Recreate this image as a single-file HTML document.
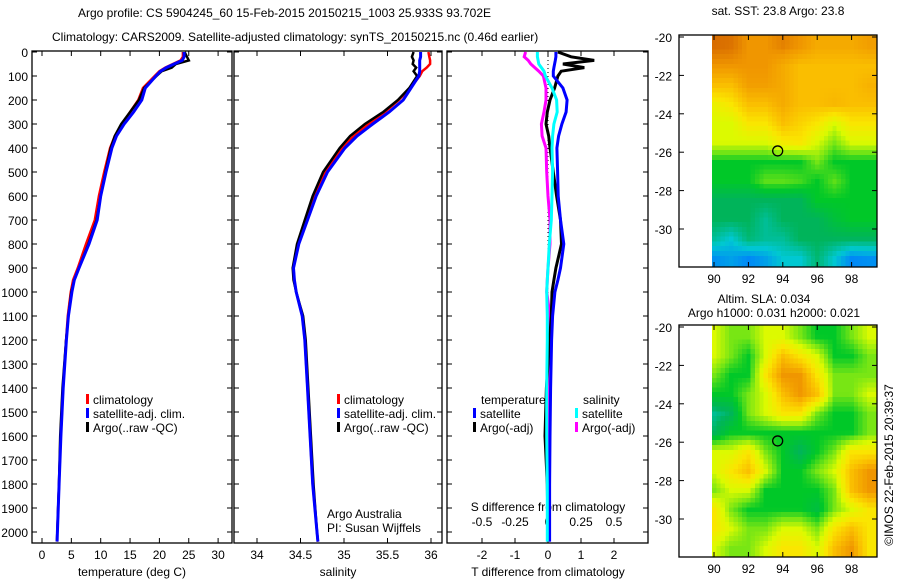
<!DOCTYPE html>
<html><head><meta charset="utf-8"><style>
body{margin:0;background:#fff}
svg{display:block;font-family:"Liberation Sans",Arial,sans-serif;font-size:12px}
</style></head><body>
<svg id="c" width="900" height="580" viewBox="0 0 900 580">
<text x="78" y="17">Argo profile: CS 5904245_60 15-Feb-2015 20150215_1003 25.933S 93.702E</text>
<text x="52" y="41">Climatology: CARS2009. Satellite-adjusted climatology: synTS_20150215.nc (0.46d earlier)</text>
<g id="g"></g>
<text x="327" y="518">Argo Australia</text>
<text x="327" y="532">PI: Susan Wijffels</text>
<text x="778" y="15" text-anchor="middle">sat. SST: 23.8 Argo: 23.8</text>
<text x="764" y="303" text-anchor="middle">Altim. SLA: 0.034</text>
<text x="774" y="317" text-anchor="middle">Argo h1000: 0.031 h2000: 0.021</text>
<text transform="translate(893,465) rotate(-90)" text-anchor="middle">©IMOS 22-Feb-2015 20:39:37</text>
</svg>
<script>
// ---- data ----
const depths = [0,20,35,50,65,80,100,150,200,250,300,350,400,500,600,700,800,900,950,1000,1100,1200,1400,1600,1800,2000,2040];
const tempClim = [24.0,24.0,23.6,22.3,21.0,20.0,19.2,17.2,16.4,15.0,13.6,12.4,11.6,10.6,9.7,9.0,7.5,6.1,5.3,4.9,4.4,4.1,3.6,3.2,2.9,2.6,2.55];
const tempSat  = [24.2,24.2,23.9,22.5,21.2,20.2,19.4,17.6,17.0,15.6,14.0,12.7,11.9,10.9,10.0,9.4,8.0,6.3,5.5,5.1,4.5,4.15,3.62,3.22,2.92,2.62,2.57];
const tempArgo = [24.3,24.7,25.0,22.8,22.1,20.4,19.5,17.4,16.5,15.0,13.5,12.4,11.7,10.8,10.0,9.3,7.9,6.3,5.5,5.0,4.5,4.1,3.5,3.1,2.9,2.6,2.55];
const salClim = [35.97,35.98,35.99,35.99,35.95,35.90,35.87,35.76,35.63,35.47,35.28,35.11,34.98,34.79,34.66,34.56,34.47,34.42,34.43,34.45,34.52,34.55,34.58,34.61,34.64,34.69,34.70];
const salSat  = [35.88,35.88,35.87,35.87,35.87,35.87,35.86,35.77,35.68,35.52,35.33,35.15,35.01,34.81,34.68,34.58,34.48,34.42,34.43,34.45,34.52,34.55,34.58,34.61,34.64,34.69,34.70];
const salArgo = [35.80,35.78,35.80,35.79,35.83,35.80,35.84,35.75,35.62,35.45,35.24,35.07,34.95,34.76,34.64,34.55,34.46,34.41,34.42,34.45,34.53,34.56,34.59,34.62,34.65,34.69,34.70];
const dTSat  = [0.24,0.24,0.22,0.2,0.18,0.16,0.16,0.45,0.58,0.55,0.42,0.32,0.27,0.29,0.31,0.38,0.48,0.38,0.3,0.21,0.14,0.11,0.08,0.06,0.05,0.05,0.05];
const dTArgo = [0.3,0.7,1.4,0.45,1.1,0.4,0.3,0.2,0.06,-0.02,-0.06,0.02,0.06,0.16,0.26,0.38,0.41,0.24,0.18,0.12,0.1,0.05,-0.05,-0.09,-0.02,0.0,0.0];
const dSSat  = [-0.08,-0.08,-0.075,-0.07,-0.05,-0.03,-0.02,0.03,0.065,0.07,0.045,0.035,0.03,0.035,0.03,0.025,0.01,0.0,-0.005,-0.01,-0.005,-0.005,-0.01,-0.01,-0.005,-0.005,-0.005];
const dSArgo = [-0.17,-0.18,-0.15,-0.13,-0.1,-0.07,-0.035,-0.015,-0.015,-0.03,-0.05,-0.045,-0.015,-0.01,0.0,0.015,0.015,0.0,-0.005,-0.01,0.015,0.01,0.01,0.01,0.01,0.01,0.01];
const depthTicks = [0,100,200,300,400,500,600,700,800,900,1000,1100,1200,1300,1400,1500,1600,1700,1800,1900,2000];
const tempTicks = [0,5,10,15,20,25,30];
const salTicks = [34,34.5,35,35.5,36];
const tdTicks = [-2,-1,0,1,2];
const sdTicks = [-0.5,-0.25,0,0.25,0.5];
const sdTickLabels = ["-0.5","-0.25","0","0.25","0.5"];
const latTicks = [-20,-22,-24,-26,-28,-30];
const lonTicks = [90,92,94,96,98];
const mapLons = [90,91,92,93,94,95,96,97,98,99];
const mapLats = [-20,-21,-22,-23,-24,-25,-26,-27,-28,-29,-30,-31];
const sstGrid = [
[9.6,9.5,9,9,9.3,9,8.5,8.5,8.5,8.8],
[9,9,9,9,8.5,8,8,8,8,8],
[8,8,8.8,8.8,8.5,8,8,8,8,8.3],
[6.5,7,8,8,8.5,8,8,8.2,8,8],
[6,6,7,7,8,7.5,7,6,7,7],
[6,6,6,6,6.8,7,6,5,6,6],
[4,4,4,4,4,4,5,4,4,4],
[4,4,4,4.8,4.8,4.6,4,4.8,4,4],
[3,3,3,3,3,3,4,4,4,4],
[3,3,3,2.5,3,3,3,3.6,4,4],
[2.5,2,2.8,2.5,2.5,3,3,3,3,3],
[1.3,1.5,1.2,1.5,2,2,2.8,2,1.2,1.3]];
const slaGrid = [
[6,5,5,6,6,5,4,4,5,6],
[6,5,4,6,8,7,6,4,4,5],
[5,4,4,7,9,9,7,5,5,5],
[4,4,5,6,8,9,8,5,5,6],
[2.5,3,5,6,7,7,5,4,4,5],
[3,4,4,4,4,4,4,4,4,5],
[6,6,7,5,4,3,4,5,7,7],
[6,7,8,6,4,4,5,6,8,9],
[5,6,6,4,4,4,4,5,8,9],
[7,5,4,4,4,4,3.5,5,6,7],
[7,6,5,5,6,6,5,7,8,7],
[6,5,5,6,7,7,6,8,9,7]];
const argoLon = 93.702, argoLat = -25.933;

// ---- helpers ----
const NS="http://www.w3.org/2000/svg";
const G=document.getElementById('g');
function mk(t,a,p){const e=document.createElementNS(NS,t);for(const k in a)e.setAttribute(k,a[k]);(p||G).appendChild(e);return e;}
const yD = d => 52 + d*0.24;
const PB = 543;
const xT = t => 42 + t*5.87;
const xS = s => 257 + (s-34)*87;
const xTd = t => 548 + t*33;
const xSd = s => 548 + s*132;

function panel(x0,x1,name){
  const r=mk('rect',{x:x0,y:51,width:x1-x0,height:PB-51,fill:'none',stroke:'#000','stroke-width':1.3});
  
  
  depthTicks.forEach(d=>{
    mk('line',{x1:x0,x2:x0+5,y1:yD(d),y2:yD(d),stroke:'#000'});
    mk('line',{x1:x1,x2:x1-5,y1:yD(d),y2:yD(d),stroke:'#000'});
  });
}
function line(xs,sc,color,w,name){
  const pts=depths.map((d,i)=>sc(xs[i]).toFixed(1)+','+yD(d).toFixed(1)).join(' ');
  const p=mk('polyline',{points:pts,fill:'none',stroke:color,'stroke-width':w,'stroke-linejoin':'miter'});
  
  
}
function txt(x,y,s,anchor,name){
  const t=mk('text',{x:x,y:y,'text-anchor':anchor||'start'});t.textContent=s;
  
  
  return t;
}
function xticks(vals,labels,sc,name){
  vals.forEach((v,i)=>{
    mk('line',{x1:sc(v),x2:sc(v),y1:51,y2:56,stroke:'#000'});
    mk('line',{x1:sc(v),x2:sc(v),y1:PB,y2:PB-5,stroke:'#000'});
    txt(sc(v),559,labels[i],'middle',name);
  });
}
// panel 1
panel(32,232,'temperature-panel');
depthTicks.forEach(d=>txt(28,yD(d)+5,String(d),'end','depth-tick-label'));
xticks(tempTicks,tempTicks.map(String),xT,'temperature-tick-label');
txt(132,576,'temperature (deg C)','middle','temperature-axis-title');
line(tempClim,xT,'#f00',2.5,'temp-climatology-line');
line(tempArgo,xT,'#000',2.5,'temp-argo-line');
line(tempSat,xT,'#00f',3,'temp-satellite-line');
// panel 2
panel(234,442,'salinity-panel');
xticks(salTicks,["34","34.5","35","35.5","36"],xS,'salinity-tick-label');
txt(338,576,'salinity','middle','salinity-axis-title');
line(salClim,xS,'#f00',2.5,'sal-climatology-line');
line(salArgo,xS,'#000',2.5,'sal-argo-line');
line(salSat,xS,'#00f',3,'sal-satellite-line');
// panel 3
panel(447,648,'difference-panel');
xticks(tdTicks,tdTicks.map(String),xTd,'t-diff-tick-label');
txt(548,576,'T difference from climatology','middle','t-diff-axis-title');
sdTicks.forEach((v,i)=>txt(xSd(v),526,sdTickLabels[i],'middle','s-diff-tick-label'));
txt(548,511,'S difference from climatology','middle','s-diff-axis-title');
mk('line',{x1:548,x2:548,y1:52,y2:PB,stroke:'#000','stroke-dasharray':'1,3'});
line(dSArgo,xSd,'#f0f',3,'sal-argo-diff-line');
line(dTArgo,xTd,'#000',3,'temp-argo-diff-line');
line(dTSat,xTd,'#00f',3,'temp-satellite-diff-line');
line(dSSat,xSd,'#0ff',3,'sal-satellite-diff-line');
// legends
function leg(x,y,c,s,name){
  const r=mk('rect',{x:x,y:y-10,width:3,height:10,fill:c});
  
  
  txt(x+7,y,s,'start',name);
}
leg(86,404,'#f00','climatology','legend-climatology');
leg(86,418,'#00f','satellite-adj. clim.','legend-satellite');
leg(86,432,'#000','Argo(..raw -QC)','legend-argo');
leg(337,404,'#f00','climatology','legend2-climatology');
leg(337,418,'#00f','satellite-adj. clim.','legend2-satellite');
leg(337,432,'#000','Argo(..raw -QC)','legend2-argo');
txt(481,404,'temperature','start','legend-temperature-heading');
leg(473,418,'#00f','satellite','legend-t-satellite');
leg(473,432,'#000','Argo(-adj)','legend-t-argo');
txt(583,404,'salinity','start','legend-salinity-heading');
leg(575,418,'#0ff','satellite','legend-s-satellite');
leg(575,432,'#f0f','Argo(-adj)','legend-s-argo');

// maps
const stops=[[0,[0,40,200]],[1,[0,120,255]],[2,[0,200,210]],[3,[0,180,90]],[4,[0,200,40]],[5,[120,230,20]],[6,[220,250,0]],[7,[250,230,0]],[8,[250,190,0]],[9,[240,150,0]],[10,[200,80,0]]];
function cmap(v){
  v=Math.max(0,Math.min(10,v));
  for(let i=1;i<stops.length;i++){if(v<=stops[i][0]){const a=stops[i-1],b=stops[i],f=(v-a[0])/(b[0]-a[0]);
    return 'rgb('+a[1].map((c,k)=>Math.round(c+(b[1][k]-c)*f)).join(',')+')';}}
  return 'rgb(200,80,0)';
}
const xL = lon => 714 + (lon-90)*17.2;
function sample(grid,fr,fc){
  fr=Math.max(0,Math.min(grid.length-1,fr));fc=Math.max(0,Math.min(grid[0].length-1,fc));
  const r0=Math.floor(fr),c0=Math.floor(fc),r1=Math.min(r0+1,grid.length-1),c1=Math.min(c0+1,grid[0].length-1);
  const a=fr-r0,b=fc-c0;
  return grid[r0][c0]*(1-a)*(1-b)+grid[r0][c1]*(1-a)*b+grid[r1][c0]*a*(1-b)+grid[r1][c1]*a*b;
}
function drawMap(top,grid,name,smooth){
  const yL = lat => top+2 + (-20-lat)*19.2;
  const g=mk('g',{'shape-rendering':'crispEdges'});
  
  
  const x0=712,x1=876,y0=top,y1=top+231;
  const sub = smooth?4:1;
  const cw=17.2/sub, ch=19.2/sub;
  for(let y=y0;y<y1;y+=ch){
    for(let x=x0;x<x1;x+=cw){
      const lon=90+(x+cw/2-714)/17.2, lat=-20-(y+ch/2-top-2)/19.2;
      let v;
      if(smooth){ v=sample(grid,(-20-lat)-0.5,(lon-90)); }
      else { const r=Math.max(0,Math.min(grid.length-1,Math.floor(-20-lat))), c=Math.max(0,Math.min(grid[0].length-1,Math.round(lon-90))); v=grid[r][c]; }
      const c=mk('rect',{x:x.toFixed(1),y:y.toFixed(1),width:(Math.min(cw,x1-x)+0.6).toFixed(1),height:(Math.min(ch,y1-y)+0.6).toFixed(1),fill:cmap(v)},g);
      
      
    }
  }
  const b=mk('rect',{x:679,y:top,width:198,height:232,fill:'none',stroke:'#000','stroke-width':1.3});
  
  
  latTicks.forEach(l=>{
    mk('line',{x1:679,x2:684,y1:yL(l),y2:yL(l),stroke:'#000'});
    mk('line',{x1:877,x2:872,y1:yL(l),y2:yL(l),stroke:'#000'});
    txt(672,yL(l)+5,String(l),'end',name+'-lat-label');
  });
  lonTicks.forEach(l=>{
    mk('line',{x1:xL(l),x2:xL(l),y1:top,y2:top+5,stroke:'#000'});
    mk('line',{x1:xL(l),x2:xL(l),y1:top+232,y2:top+227,stroke:'#000'});
    txt(xL(l),top+248,String(l),'middle',name+'-lon-label');
  });
  const m=mk('circle',{cx:xL(argoLon),cy:yL(argoLat),r:5,fill:'none',stroke:'#000','stroke-width':1.3});
  
  
}
drawMap(35,sstGrid,'sst-map',true);
drawMap(325,slaGrid,'sla-map',true);
</script>
</body></html>
